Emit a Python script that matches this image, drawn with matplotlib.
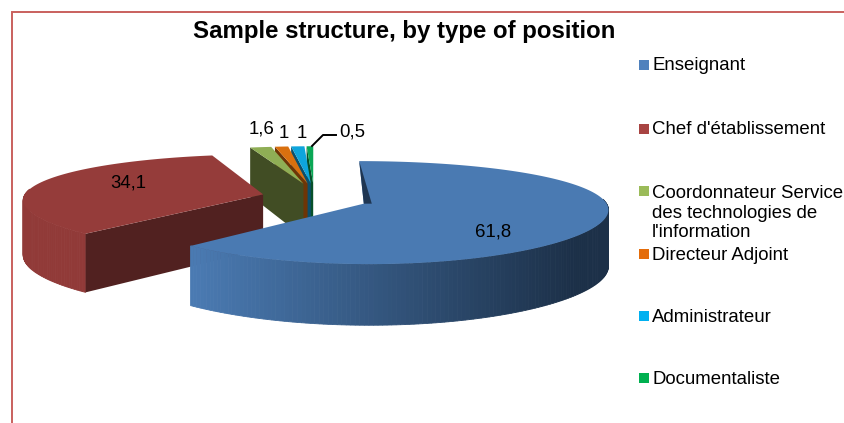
import numpy as np
import matplotlib
matplotlib.use('Agg')
import matplotlib.pyplot as plt
from matplotlib.patches import Polygon, Rectangle
from matplotlib.colors import to_rgb

plt.rcParams['font.family'] = ['Liberation Sans', 'DejaVu Sans']

title = 'Sample structure, by type of position'
categories = ['Enseignant', "Chef d'établissement",
              'Coordonnateur Service\ndes technologies de\nl\'information',
              'Directeur Adjoint', 'Administrateur', 'Documentaliste']
values = [61.8, 34.1, 1.6, 1, 1, 0.5]
top_colors = ['#4a7ab2', '#953c3a', '#8fae55', '#d9700f', '#0ea5dc', '#0aa755']
wall_colors = ['#1f3652', '#512120', '#414d24', '#6e3506', '#0b4f6b', '#07502a']
legend_colors = ['#4f81bd', '#a84442', '#9bbb59', '#e46c0a', '#00b0f0', '#00b050']

# projection of the tilted pie, in pixels
x0, y0 = 314, 198
sx, sy = 240, 48
persp_x = 0.1
persp_y = 0.17
explode_x = 0.22
explode_y = 0.32
depth = 55


def project(theta, r, mid, z=0):
    # theta clockwise from the top, in radians
    X = explode_x * np.sin(mid) + r * np.sin(theta)
    Y = -explode_y * np.cos(mid) - r * np.cos(theta)
    return x0 + sx * X / (1 - persp_x * Y), y0 + sy * Y / (1 - persp_y * Y) + z * depth * (1 + 0.1 * Y)


fig = plt.figure(figsize=(8.44, 4.23), dpi=100)
ax = fig.add_axes([0, 0, 1, 1])
ax.set_xlim(0, 844)
ax.set_ylim(423, 0)
ax.axis('off')

# chart border, open on the right and at the bottom
ax.plot([11.5, 11.5, 844], [423, 12.5, 12.5], color='#c9605d', lw=1.4, solid_joinstyle='miter')

edges = np.cumsum([0] + values) / sum(values) * 2 * np.pi

# back slices first, then red, blue on top
for i in [5, 4, 3, 2, 1, 0]:
    a0, a1 = edges[i], edges[i + 1]
    mid = (a0 + a1) / 2
    angles = np.linspace(a0, a1, max(int((a1 - a0) * 60), 4))

    # start edge wall
    if i > 0:
        wall = [project(a0, 1, mid), project(a0, 0, mid), project(a0, 0, mid, 1), project(a0, 1, mid, 1)]
        ax.add_patch(Polygon(wall, fc=wall_colors[i], ec='none', zorder=10 - i + 0.2))

    # outer side, strip by strip, front half only
    if i < 2:
        for a, b in zip(angles[:-1], angles[1:]):
            if np.cos(a) > 0.1:
                continue
            p1 = project(a, 1, mid)
            p2 = project(b, 1, mid)
            p3 = project(b, 1, mid, 1)
            p4 = project(a, 1, mid, 1)
            if i == 0:
                t = np.clip((p1[0] - 197) / (575 - 197), 0, 1)
                c = np.array(to_rgb('#4a7ab2')) * (1 - t) + np.array(to_rgb('#1c3048')) * t
            else:
                c = to_rgb('#913a38')
            ax.add_patch(Polygon([p1, p2, p3, p4], fc=c, ec=c, lw=0.6, zorder=10 - i))

    # top face
    rim = [project(a, 1, mid) for a in angles]
    ax.add_patch(Polygon(rim + [project(a0, 0, mid)], fc=top_colors[i], ec='none', zorder=10 - i + 0.5))

# dark sliver on the first slice's start edge
a0 = edges[0]
m0 = (edges[0] + edges[1]) / 2
ax.add_patch(Polygon([project(a0, 1, m0), project(a0, 0, m0), project(np.pi / 2, 0.033, m0)],
                     fc=wall_colors[0], ec='none', zorder=11))

# data labels
label_pos = [(493, 232), (128, 183), (262, 129), (284, 133), (302, 133), (352, 132)]
for v, (lx, ly) in zip(values, label_pos):
    ax.text(lx, ly, f'{v:g}'.replace('.', ','), ha='center', va='center', fontsize=13.4, color='black', zorder=20)
ax.plot([312, 323, 336], [146, 135, 135], color='black', lw=1.4, zorder=20)

ax.text(404, 31.5, title, ha='center', va='center', fontsize=17.3, fontweight='bold', color='black')

# legend
legend_y = [66, 130, 213, 255, 317, 379]
swatch_y = [65, 129, 191, 254, 316, 378]
for name, c, ly, sy_ in zip(categories, legend_colors, legend_y, swatch_y):
    ax.add_patch(Rectangle((639, sy_ - 5), 10, 10, fc=c, ec='none'))
    ax.text(652, ly, name, ha='left', va='center', fontsize=13.4, color='black', linespacing=1.17)

fig.savefig('out.png', dpi=100)
